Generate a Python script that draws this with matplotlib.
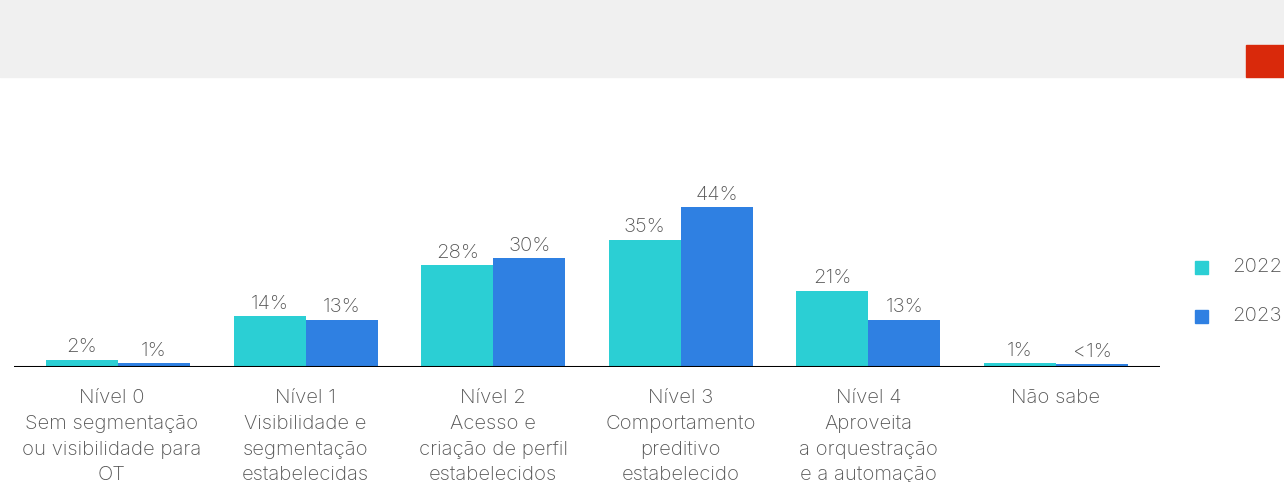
import matplotlib.pyplot as plt
from matplotlib.patches import Rectangle
from matplotlib.transforms import ScaledTranslation
import numpy as np

plt.rcParams['font.family'] = ['Inter', 'DejaVu Sans']
plt.rcParams['font.weight'] = 'light'

categories = ['Nível 0\nSem segmentação\nou visibilidade para\nOT',
              'Nível 1\nVisibilidade e\nsegmentação\nestabelecidas',
              'Nível 2\nAcesso e\ncriação de perfil\nestabelecidos',
              'Nível 3\nComportamento\npreditivo\nestabelecido',
              'Nível 4\nAproveita\na orquestração\ne a automação',
              'Não sabe']
vals_2022 = [2, 14, 28, 35, 21, 1]
vals_2023 = [1, 13, 30, 44, 13, 0.7]
labels_2022 = ['2%', '14%', '28%', '35%', '21%', '1%']
labels_2023 = ['1%', '13%', '30%', '44%', '13%', '<1%']
series = ['2022', '2023']

teal = '#2bcfd4'
blue = '#2f80e2'
grey_txt = '#555555'
fs = 14.6

W, H = 1284, 482
fig = plt.figure(figsize=(W / 100, H / 100), dpi=100)

# grey header band and red tab
fig.patches.append(Rectangle((0, 1 - 77 / H), 1, 77 / H, transform=fig.transFigure,
                             color='#f0f0f0', zorder=0))
fig.patches.append(Rectangle((1246 / W, 1 - 77 / H), 38 / W, 32 / H, transform=fig.transFigure,
                             color='#d9290b', zorder=1))

base_px = 367
ymax = 50
px_per = 160 / 44
ax_h = ymax * px_per
step = 187.6
ax = fig.add_axes([14 / W, 1 - base_px / H, (1160 - 14) / W, ax_h / H])
ax.set_xlim((14 - 118) / step, (1160 - 118) / step)
ax.set_ylim(0, ymax)

x = np.arange(len(categories))
w = 72 / step
ax.bar(x - w / 2, vals_2022, w, color=teal)
ax.bar(x + w / 2, vals_2023, w, color=blue)
for i in range(len(x)):
    ax.text(x[i] - w / 2, vals_2022[i] + 0.9, labels_2022[i], ha='center', va='bottom',
            fontsize=fs, color=grey_txt)
    ax.text(x[i] + w / 2, vals_2023[i] + 0.9, labels_2023[i], ha='center', va='bottom',
            fontsize=fs, color=grey_txt)

ax.axhline(0, color='black', lw=2.2)
for s in ax.spines.values():
    s.set_visible(False)
ax.set_yticks([])
ax.set_xticks(x)
ax.set_xticklabels(categories, fontsize=fs, color=grey_txt, linespacing=1.55)
ax.tick_params(axis='x', length=0, pad=16)
# first label sits a little left in the original
lab0 = ax.get_xticklabels()[0]
lab0.set_transform(lab0.get_transform() + ScaledTranslation(-6 / 100, 0, fig.dpi_scale_trans))

# legend
for k, (name, col) in enumerate(zip(series, [teal, blue])):
    yc = 1 - (267 + 49 * k) / H
    fig.patches.append(Rectangle((1195 / W, yc - 6.5 / H), 13 / W, 13 / H,
                                 transform=fig.transFigure, color=col))
    fig.text(1232 / W, yc, name, fontsize=fs, color=grey_txt, va='center', ha='left')

fig.savefig('out.png', dpi=100)
